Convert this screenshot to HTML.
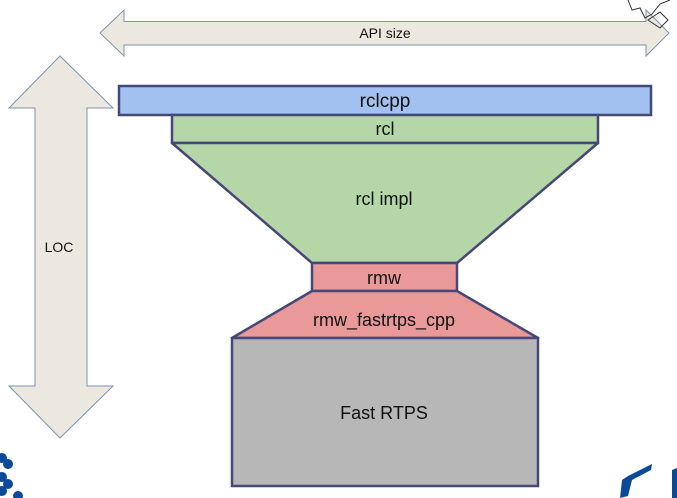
<!DOCTYPE html>
<html><head><meta charset="utf-8"><style>
html,body{margin:0;padding:0;background:#fff;}
svg{display:block;}
text{font-family:"Liberation Sans",sans-serif;fill:#111;}
</style></head><body>
<svg width="677" height="498" viewBox="0 0 677 498" xmlns="http://www.w3.org/2000/svg">
<!-- horizontal API arrow -->
<polygon points="100,33 124,10 124,21.5 646,21.5 646,10 669,33 646,56 646,45 124,45 124,56" fill="#ebe9df" stroke="#7f93b0" stroke-width="1"/>
<text x="385" y="38" font-size="14" text-anchor="middle">API size</text>
<!-- vertical LOC arrow -->
<polygon points="60,56 113,108 87,108 87,386 113,386 60,438 9,386 35,386 35,108 9,108" fill="#ebe9df" stroke="#7f93b0" stroke-width="1"/>
<text x="59" y="252" font-size="14" text-anchor="middle">LOC</text>
<!-- stack -->
<rect x="119" y="86" width="532" height="29" fill="#a2c1f0" stroke="#454878" stroke-width="2.5"/>
<text x="385" y="107" font-size="19" text-anchor="middle">rclcpp</text>
<rect x="172" y="115" width="426" height="28" fill="#b5d6a7" stroke="#454878" stroke-width="2.5"/>
<text x="385" y="135" font-size="18" text-anchor="middle">rcl</text>
<polygon points="172,143 598,143 457,263 312,263" fill="#b5d6a7" stroke="#454878" stroke-width="2.5" stroke-linejoin="round"/>
<text x="384" y="205" font-size="18" text-anchor="middle">rcl impl</text>
<rect x="312" y="263" width="145" height="28" fill="#ea9999" stroke="#454878" stroke-width="2.5"/>
<text x="384" y="284" font-size="18" text-anchor="middle">rmw</text>
<polygon points="312,291 457,291 538,338 232,338" fill="#ea9999" stroke="#454878" stroke-width="2.5" stroke-linejoin="round"/>
<text x="384" y="326" font-size="18" text-anchor="middle">rmw_fastrtps_cpp</text>
<rect x="232" y="338" width="306" height="148" fill="#b7b7b7" stroke="#454878" stroke-width="2.5"/>
<text x="384" y="419" font-size="18" text-anchor="middle">Fast RTPS</text>
<!-- corner decorations -->
<g fill="#0b4a9a">
<circle cx="2" cy="458" r="5"/><circle cx="8" cy="464" r="5"/>
<circle cx="2" cy="477" r="5"/><circle cx="8" cy="484" r="5"/><circle cx="2" cy="491" r="5"/>
<circle cx="18" cy="496" r="5"/>
<path d="M620,498 L622,480 L628,476 L648,466 L652,464 L651,470 L632,480 L628,496 Z"/>
<path d="M672,470 L677,468 L677,498 L672,498 Z"/>
</g>
<g fill="none" stroke="#333" stroke-width="1">
<path d="M628,0 L632,10 L640,8 L645,18 L652,14 L660,4 L670,0"/>
<path d="M648,20 L660,12 L668,20 L660,28 Z"/>
</g>
</svg>
</body></html>
